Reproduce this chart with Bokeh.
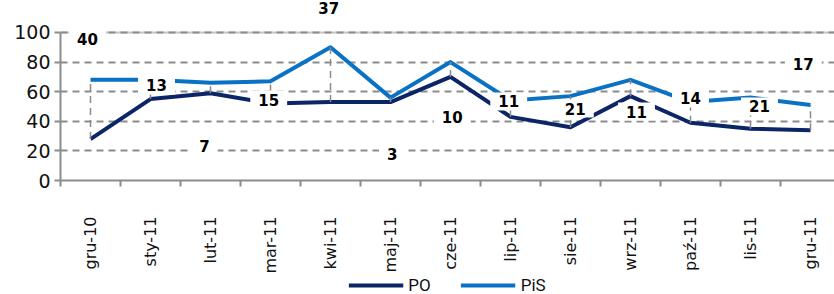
import numpy as np
from bokeh.plotting import figure
from bokeh.layouts import column
from bokeh.models import Range1d, FixedTicker, Span, Legend, LegendItem
from bokeh.core.properties import value
from bokeh.embed import file_html
from bokeh.resources import INLINE

# ---- data ----
months = ["gru-10", "sty-11", "lut-11", "mar-11", "kwi-11", "maj-11", "cze-11",
          "lip-11", "sie-11", "wrz-11", "paź-11", "lis-11", "gru-11"]
po = [28, 55, 59, 52, 53, 53, 70, 43, 36, 57, 39, 35, 34]
pis = [68, 68, 66, 67, 90, 56, 80, 54, 57, 68, 53, 56, 51]
gaps = [40, 13, 7, 15, 37, 3, 10, 11, 21, 11, 14, 21, 17]
y_ticks = [0, 20, 40, 60, 80, 100]
series_names = ["PO", "PiS"]

# ---- label placement (layout) ----
label_x = [0.45, 1.6, 2.4, 3.47, 4.47, 5.53, 6.53, 7.47, 8.58, 9.6, 10.5, 11.65, 12.38]
label_y = [95.9, 64.2, 23, 54.7, 116.3, 18.2, 43.2, 53.4, 48.6, 46.6, 55.4, 50, 79]

PO_COLOR = "#0c2566"
PIS_COLOR = "#0a72c4"
GRID = "#8c8c8c"

xc = np.arange(len(months)) + 0.5

fig = figure(width=834, height=276, x_range=Range1d(0, 12.9), y_range=Range1d(0, 121.6),
             output_backend="svg", toolbar_location=None,
             min_border_left=60, min_border_right=0, min_border_top=0, min_border_bottom=96)
fig.outline_line_color = None
fig.background_fill_color = "white"

# top solid line at 100
top = Span(location=100, dimension="width", line_color="#c4c4c4", line_width=2, level="image")
fig.add_layout(top)

# grid
fig.xgrid.visible = False
fig.ygrid.ticker = FixedTicker(ticks=y_ticks)
fig.ygrid.grid_line_color = GRID
fig.ygrid.grid_line_width = 2
fig.ygrid.grid_line_dash = "7 5"

# y axis
fig.yaxis.ticker = FixedTicker(ticks=y_ticks)
fig.yaxis.bounds = (0, 100)
fig.yaxis.axis_line_color = GRID
fig.yaxis.axis_line_width = 2
fig.yaxis.major_tick_line_color = GRID
fig.yaxis.major_tick_line_width = 2
fig.yaxis.major_tick_out = 6
fig.yaxis.major_tick_in = 0
fig.yaxis.minor_tick_line_color = None
fig.yaxis.major_label_standoff = 4
fig.yaxis.major_label_text_font = "DejaVu Sans"
fig.yaxis.major_label_text_font_size = "19px"
fig.yaxis.major_label_text_color = "#111111"

# x axis: labels at centres, tick marks at category boundaries
fig.xaxis.ticker = FixedTicker(ticks=list(xc), minor_ticks=list(range(len(months) + 1)))
fig.xaxis.major_label_overrides = {float(x): m for x, m in zip(xc, months)}
fig.xaxis.axis_line_color = GRID
fig.xaxis.axis_line_width = 2
fig.xaxis.major_tick_line_color = None
fig.xaxis.major_tick_out = 0
fig.xaxis.major_tick_in = 0
fig.xaxis.minor_tick_line_color = GRID
fig.xaxis.minor_tick_line_width = 2
fig.xaxis.minor_tick_out = 6
fig.xaxis.minor_tick_in = 0
fig.xaxis.major_label_orientation = np.pi / 2
fig.xaxis.major_label_standoff = 30
fig.xaxis.major_label_text_font = "DejaVu Sans"
fig.xaxis.major_label_text_font_size = "16px"
fig.xaxis.major_label_text_color = "#111111"

# series
fig.line(xc, po, line_color=PO_COLOR, line_width=4, line_join="round")
fig.line(xc, pis, line_color=PIS_COLOR, line_width=4, line_join="round")

# high-low lines
fig.segment(x0=xc, y0=po, x1=xc, y1=pis, line_color="#8a8a8a", line_width=1.5, line_dash="7 5")

# gap labels
fig.text(x=label_x, y=label_y, text=[str(g) for g in gaps],
         text_align="center", text_baseline="middle",
         text_font=value("DejaVu Sans"), text_font_style="bold", text_font_size="15px",
         text_color="black", background_fill_color="white",
         padding=dict(left=8, right=8, top=3, bottom=3))

# legend strip (series drawn out of view, only their legend entries show)
leg = figure(width=834, height=18, x_range=Range1d(0, 12.9), y_range=Range1d(500, 501),
             output_backend="svg", toolbar_location=None,
             x_axis_location=None, y_axis_location=None, min_border=0)
leg.outline_line_color = None
leg.grid.visible = False
k_po = leg.line(xc, po, line_color=PO_COLOR, line_width=4)
k_pis = leg.line(xc, pis, line_color=PIS_COLOR, line_width=4)
legend = Legend(items=[LegendItem(label=series_names[0], renderers=[k_po]),
                       LegendItem(label=series_names[1], renderers=[k_pis])],
                location="center", orientation="horizontal",
                glyph_width=55, glyph_height=14, label_height=14,
                label_standoff=5, spacing=30, padding=0, margin=0,
                border_line_color=None, background_fill_alpha=0,
                label_text_font="Roboto", label_text_font_size="17px",
                label_text_color="#111111")
leg.add_layout(legend, "center")

p = column(fig, leg, spacing=0)
open("out.html", "w").write(file_html(p, INLINE))
